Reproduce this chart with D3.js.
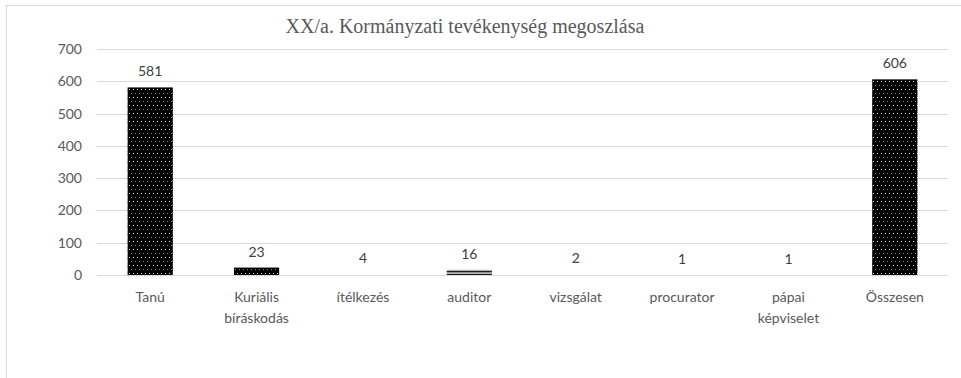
<!DOCTYPE html>
<html>
<head>
<meta charset="utf-8">
<script src="https://cdn.jsdelivr.net/npm/d3@7"></script>
<style>
  html, body { margin: 0; padding: 0; background: #fff; }
  svg { display: block; }
</style>
</head>
<body>
<svg id="chart" width="961" height="378"></svg>
<script>
// Kormányzati tevékenység megoszlása – darabszámok kategóriánként
const categories = ["Tanú", "Kuriális bíráskodás", "ítélkezés", "auditor", "vizsgálat", "procurator", "pápai képviselet", "Összesen"];
const values = [581, 23, 4, 16, 2, 1, 1, 606];
const fills = ["dots", "dots", "light", "stripes", "light", "light", "light", "dots"];
const yTicks = [0, 100, 200, 300, 400, 500, 600, 700];
const title = "XX/a. Kormányzati tevékenység megoszlása";

const svg = d3.select("#chart");
const W = 961, H = 378;
const margin = { left: 97, right: 13, top: 49, bottom: 103 };
const labelFont = "Lato, 'Open Sans', sans-serif";

// chart area frame
svg.append("rect")
  .attr("x", 6.5).attr("y", 5.5)
  .attr("width", W + 10).attr("height", H + 10)
  .attr("fill", "#fff").attr("stroke", "#d9d9d9").attr("stroke-width", 1);

// fill patterns
const defs = svg.append("defs");
const dots = defs.append("pattern").attr("id", "dots")
  .attr("patternUnits", "userSpaceOnUse").attr("width", 8).attr("height", 8);
dots.append("rect").attr("width", 8).attr("height", 8).attr("fill", "#000");
[[1, 1, "#e6e6e6"], [5, 1, "#e6e6e6"], [3, 5, "#8a8a8a"], [7, 5, "#8a8a8a"]].forEach(([x, y, c]) =>
  dots.append("rect").attr("x", x).attr("y", y).attr("width", 1).attr("height", 1).attr("fill", c));

const stripes = defs.append("pattern").attr("id", "stripes")
  .attr("patternUnits", "userSpaceOnUse").attr("width", 8).attr("height", 3)
  .attr("y", 0.7);
stripes.append("rect").attr("width", 8).attr("height", 3).attr("fill", "#fff");
stripes.append("rect").attr("width", 8).attr("height", 1.6).attr("fill", "#000");

const light = defs.append("pattern").attr("id", "light")
  .attr("patternUnits", "userSpaceOnUse").attr("width", 8).attr("height", 8);
light.append("rect").attr("width", 8).attr("height", 8).attr("fill", "#fff");

const x = d3.scaleBand()
  .domain(categories)
  .range([margin.left, W - margin.right])
  .paddingInner(0.575).paddingOuter(0.2875);

const y = d3.scaleLinear()
  .domain([0, 700])
  .range([H - margin.bottom, margin.top]);

// gridlines
svg.append("g")
  .selectAll("line")
  .data(yTicks)
  .join("line")
  .attr("x1", margin.left).attr("x2", W - margin.right)
  .attr("y1", d => Math.round(y(d)) + 0.5).attr("y2", d => Math.round(y(d)) + 0.5)
  .attr("stroke", "#d9d9d9").attr("stroke-width", 1);

// y axis labels
const yAxis = d3.axisLeft(y).tickValues(yTicks).tickSize(0).tickPadding(15);
const gy = svg.append("g").attr("transform", `translate(${margin.left},0)`).call(yAxis);
gy.select(".domain").remove();
gy.selectAll("text")
  .attr("font-family", labelFont)
  .attr("font-size", 14).attr("fill", "#595959");

// bars
svg.append("g")
  .selectAll("rect")
  .data(categories)
  .join("rect")
  .attr("x", d => x(d))
  .attr("width", x.bandwidth())
  .attr("y", (d, i) => y(values[i]))
  .attr("height", (d, i) => y(0) - y(values[i]))
  .attr("fill", (d, i) => `url(#${fills[i]})`);

// value labels
svg.append("g")
  .selectAll("text")
  .data(categories)
  .join("text")
  .attr("x", d => x(d) + x.bandwidth() / 2)
  .attr("y", (d, i) => y(values[i]) - 11)
  .attr("text-anchor", "middle")
  .attr("font-family", labelFont)
  .attr("font-size", 14).attr("fill", "#404040")
  .text((d, i) => values[i]);

// category labels (two-word labels wrap onto two lines)
const xAxis = d3.axisBottom(x).tickSize(0).tickPadding(0);
const gx = svg.append("g").attr("transform", `translate(0,${y(0)})`).call(xAxis);
gx.select(".domain").remove();
gx.selectAll("text")
  .attr("font-family", labelFont)
  .attr("font-size", 14).attr("fill", "#595959")
  .attr("y", 0).attr("dy", null)
  .each(function (d) {
    const t = d3.select(this).text(null);
    d.split(" ").forEach((w, i) => {
      t.append("tspan").attr("x", 0).attr("y", 27 + i * 20.5).text(w);
    });
  });

// title
svg.append("text")
  .attr("x", 465).attr("y", 33)
  .attr("text-anchor", "middle")
  .attr("font-family", "'Liberation Serif', 'DejaVu Serif', serif")
  .attr("font-size", 20).attr("fill", "#595959")
  .text(title);
</script>
</body>
</html>
